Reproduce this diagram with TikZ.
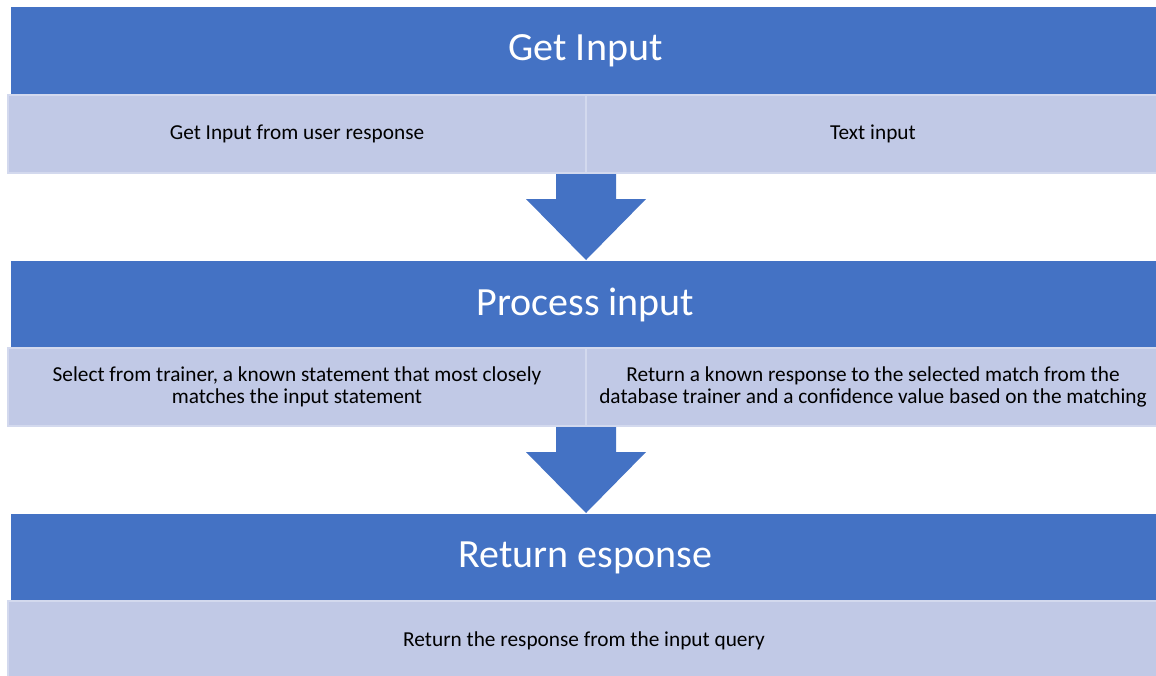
\documentclass[tikz,border=0pt]{standalone}
\usepackage{fontspec}
\setmainfont{Carlito}
\definecolor{hdblue}{HTML}{4472C4}
\definecolor{sublight}{HTML}{C1C9E6}
\definecolor{subedge}{HTML}{D3D9EE}
\begin{document}
\begin{tikzpicture}[x=1pt,y=-1pt,
  header/.style={fill=hdblue,draw=none,inner sep=0,outer sep=0,anchor=north west,
    minimum width=1149pt,minimum height=87pt,text=white,font=\fontsize{40}{46}\selectfont},
  subcell/.style={fill=sublight,draw=subedge,line width=1.2pt,inner sep=0,outer sep=0,anchor=north west,
    minimum height=78pt,text=black,align=center,font=\fontsize{21.3}{22}\selectfont},
  blockarrow/.style={fill=hdblue,draw=none}]
\useasboundingbox (0,0) rectangle (1156,675);
\fill[white] (0,0) rectangle (1156,675);
% row 1
\node[header] (h1) at (11,7) {Get Input};
\node[subcell,minimum width=578pt] (s1a) at (8,95) {Get Input from user response};
\node[subcell,minimum width=574pt] (s1b) at (586,95) {Text input};
% arrow 1
\fill[blockarrow] (556,174) -- (616,174) -- (616,199) -- (646,199) -- (586,260) -- (526,199) -- (556,199) -- cycle;
% row 2
\node[header] (h2) at (11,261) {Process input};
\node[subcell,minimum width=578pt] (s2a) at (8,348) {Select from trainer, a known statement that most closely\\matches the input statement};
\node[subcell,minimum width=574pt] (s2b) at (586,348) {Return a known response to the selected match from the\\database trainer and a confidence value based on the matching};
% arrow 2
\fill[blockarrow] (556,427) -- (616,427) -- (616,452) -- (646,452) -- (586,513) -- (526,452) -- (556,452) -- cycle;
% row 3
\node[header] (h3) at (11,514) {Return esponse};
\node[subcell,minimum width=1152pt,minimum height=80pt] (s3) at (8,601) {Return the response from the input query};
\end{tikzpicture}
\end{document}
